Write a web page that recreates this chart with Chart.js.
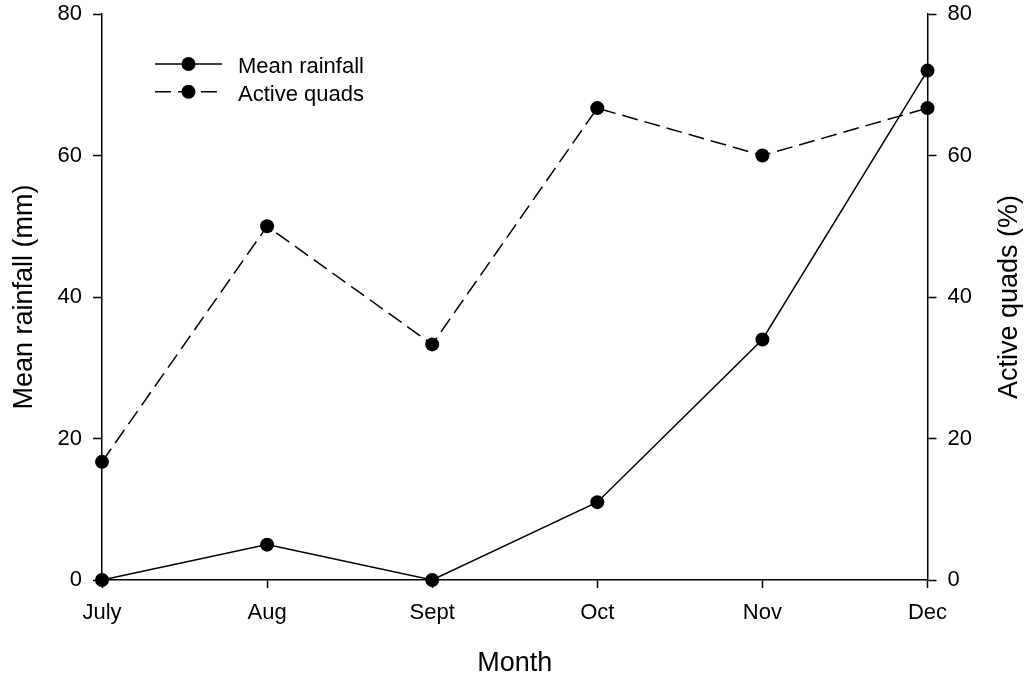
<!DOCTYPE html>
<html>
<head>
<meta charset="utf-8">
<title>Mean rainfall and active quads</title>
<script src="https://cdn.jsdelivr.net/npm/chart.js@4.4.1/dist/chart.umd.min.js"></script>
<style>
  html, body { margin: 0; padding: 0; background: #fff; }
  #chart { display: block; }
</style>
</head>
<body>
<canvas id="chart" width="1029" height="676"></canvas>
<script>
const months = ['July', 'Aug', 'Sept', 'Oct', 'Nov', 'Dec'];
const meanRainfall = [0, 5, 0, 11, 34, 72];
const activeQuads = [16.7, 50, 33.3, 66.7, 60, 66.7];
const yTicks = [0, 20, 40, 60, 80];

const xTitle = 'Month';
const yTitle = 'Mean rainfall (mm)';
const y1Title = 'Active quads (%)';

const FONT = '"Liberation Sans", Arial, Helvetica, sans-serif';
const DASH = [16, 7];

// shared look for the two value axes
function valueAxis(position) {
  return {
    position: position,
    min: 0,
    max: 80,
    afterBuildTicks: s => { s.ticks = yTicks.map(v => ({ value: v })); },
    afterFit: s => {
      s.width = position === 'left' ? 102 : 101.5;
      s.paddingTop = 0;
      s.paddingBottom = 0;
    },
    grid: { drawOnChartArea: false, tickLength: 9, tickColor: '#000', tickWidth: 1.5 },
    border: { color: '#000', width: 1.5 },
    ticks: { color: '#000', font: { family: FONT, size: 22 }, padding: 11 },
  };
}

// axis titles, both vertical ones read bottom to top
const axisTitles = {
  id: 'axisTitles',
  afterDraw(chart) {
    const { ctx, chartArea: a } = chart;
    const midY = (a.top + a.bottom) / 2;
    ctx.save();
    ctx.fillStyle = '#000';
    ctx.font = `27px ${FONT}`;
    ctx.textAlign = 'center';
    ctx.textBaseline = 'alphabetic';
    ctx.fillText(xTitle, (a.left + a.right) / 2, a.bottom + 91);
    [[a.left - 70, yTitle], [a.right + 89.5, y1Title]].forEach(([x, t]) => {
      ctx.save();
      ctx.translate(x, midY);
      ctx.rotate(-Math.PI / 2);
      ctx.fillText(t, 0, 0);
      ctx.restore();
    });
    ctx.restore();
  }
};

// legend inside the plot, top left
const insetLegend = {
  id: 'insetLegend',
  afterDraw(chart) {
    const { ctx, chartArea: a } = chart;
    ctx.save();
    chart.data.datasets.forEach((ds, i) => {
      const y = a.top + 50 + i * 27.7;
      const x0 = a.left + 53;
      ctx.strokeStyle = '#000';
      ctx.lineWidth = ds.borderWidth;
      ctx.setLineDash(ds.borderDash || []);
      ctx.beginPath();
      ctx.moveTo(x0, y);
      ctx.lineTo(x0 + 67, y);
      ctx.stroke();
      ctx.setLineDash([]);
      ctx.fillStyle = '#000';
      ctx.beginPath();
      ctx.arc(x0 + 33.5, y, ds.pointRadius, 0, Math.PI * 2);
      ctx.fill();
      ctx.font = `22px ${FONT}`;
      ctx.textAlign = 'left';
      ctx.textBaseline = 'alphabetic';
      ctx.fillText(ds.label, x0 + 83, y + 9);
    });
    ctx.restore();
  }
};

new Chart(document.getElementById('chart'), {
  type: 'line',
  data: {
    labels: months,
    datasets: [
      {
        label: 'Mean rainfall',
        data: meanRainfall,
        yAxisID: 'y',
        borderColor: '#000',
        borderWidth: 1.5,
        pointRadius: 7,
        pointBackgroundColor: '#000',
        pointBorderWidth: 0,
        clip: false,
      },
      {
        label: 'Active quads',
        data: activeQuads,
        yAxisID: 'y1',
        borderColor: '#000',
        borderWidth: 1.5,
        borderDash: DASH,
        pointRadius: 7,
        pointBackgroundColor: '#000',
        pointBorderWidth: 0,
        clip: false,
      },
    ],
  },
  options: {
    responsive: false,
    animation: false,
    layout: { padding: { top: 14, left: 0, right: 0, bottom: 0 } },
    plugins: { legend: { display: false }, tooltip: { enabled: false } },
    scales: {
      x: {
        offset: false,
        afterFit: s => {
          s.height = 96;
          s.paddingLeft = 0;
          s.paddingRight = 0;
        },
        grid: { drawOnChartArea: false, tickLength: 8, tickColor: '#000', tickWidth: 1.5 },
        border: { color: '#000', width: 1.5 },
        ticks: { color: '#000', font: { family: FONT, size: 22 }, padding: 12, maxRotation: 0 },
      },
      y: valueAxis('left'),
      y1: valueAxis('right'),
    },
  },
  plugins: [axisTitles, insetLegend],
});
</script>
</body>
</html>
